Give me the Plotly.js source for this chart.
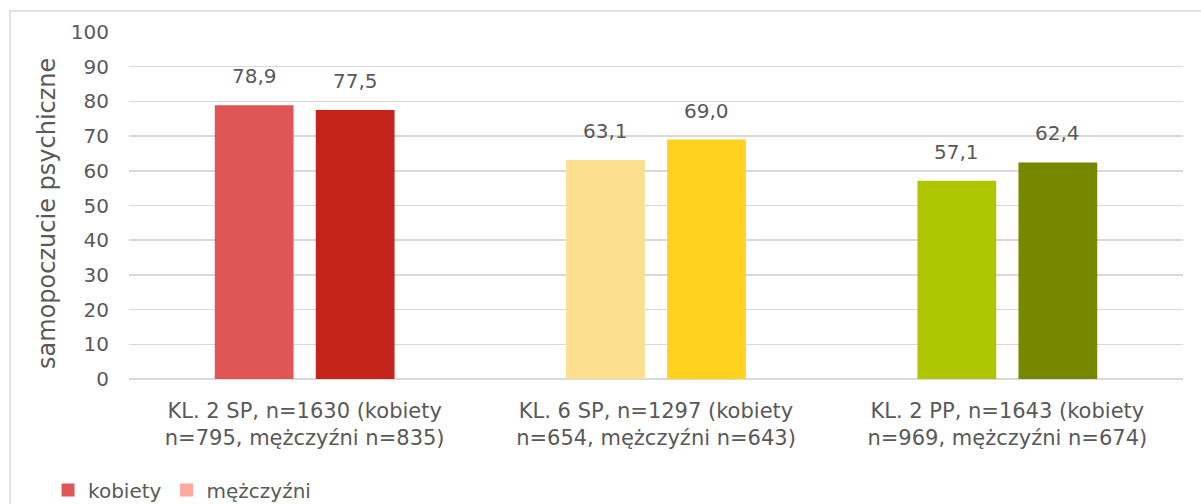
<!DOCTYPE html>
<html>
<head>
<meta charset="utf-8">
<script src="https://cdn.plot.ly/plotly-3.0.1.min.js"></script>
<style>html,body{margin:0;padding:0;background:#fff}#chart{width:1201px;height:504px}</style>
</head>
<body>
<div id="chart"></div>
<script>
const categories = [
  "KL. 2 SP, n=1630 (kobiety<br>n=795, mężczyźni n=835)",
  "KL. 6 SP, n=1297 (kobiety<br>n=654, mężczyźni n=643)",
  "KL. 2 PP, n=1643 (kobiety<br>n=969, mężczyźni n=674)"
];
const kobiety = [78.9, 63.1, 57.1];
const mezczyzni = [77.5, 69.0, 62.4];
const kobietyColors = ["#E05555", "#FDE08E", "#AEC600"];
const mezczyzniColors = ["#C4241A", "#FFD21E", "#778700"];
const legendNames = ["kobiety", "mężczyźni"];
const legendColors = ["#E05555", "#FFA8A0"];
const yTicks = [0, 10, 20, 30, 40, 50, 60, 70, 80, 90, 100];
const yTitle = "samopoczucie psychiczne";

const FONT = "DejaVu Sans, sans-serif";
const TXT = "#595959";

const traces = [
  {type: "bar", x: categories, y: kobiety, marker: {color: kobietyColors}, showlegend: false, hoverinfo: "none"},
  {type: "bar", x: categories, y: mezczyzni, marker: {color: mezczyzniColors}, showlegend: false, hoverinfo: "none"}
];
legendNames.forEach((n, i) => {
  traces.push({type: "scatter", mode: "markers", x: [null], y: [null], name: n,
    marker: {symbol: "square", size: 13, color: legendColors[i]}, hoverinfo: "none"});
});

const fmt = v => v.toFixed(1).replace(".", ",");
const annotations = [];
[kobiety, mezczyzni].forEach((arr, s) => {
  arr.forEach((v, i) => {
    annotations.push({x: categories[i], y: v, xref: "x", yref: "y", text: fmt(v),
      showarrow: false, yanchor: "bottom", xshift: s === 0 ? -50.5 : 50.5, yshift: 15,
      font: {family: FONT, size: 20, color: TXT}});
  });
});
annotations.push({text: yTitle, xref: "paper", yref: "paper", x: -0.078, y: 0.478,
  xanchor: "center", yanchor: "middle", textangle: -90, showarrow: false,
  font: {family: FONT, size: 24, color: TXT}});

const layout = {
  width: 1201, height: 504,
  margin: {l: 129, r: 18, t: 32, b: 125, autoexpand: false},
  paper_bgcolor: "#fff", plot_bgcolor: "#fff",
  barmode: "group", bargap: 0.425, bargroupgap: 0.22,
  font: {family: FONT, size: 20, color: TXT},
  xaxis: {type: "category", automargin: false, showgrid: false, showline: false, zeroline: false, ticks: "",
    ticklabelstandoff: 17, tickfont: {family: FONT, size: 21, color: TXT}},
  yaxis: {range: [0, 100], automargin: false, tickvals: yTicks, showgrid: true, gridcolor: "#d9d9d9", gridwidth: 1.5,
    zeroline: true, zerolinecolor: "#d9d9d9", zerolinewidth: 1.5, showline: false, ticks: "",
    ticklabelstandoff: 19, tickfont: {family: FONT, size: 20, color: TXT}},
  showlegend: true,
  legend: {orientation: "h", xref: "container", yref: "container", x: 0.04, xanchor: "left", y: 0.028, yanchor: "middle",
    font: {family: FONT, size: 20, color: TXT}, itemwidth: 30, traceorder: "normal"},
  annotations: annotations,
  shapes: [{type: "rect", xref: "paper", yref: "paper", x0: -0.1129, x1: 1.03, y0: -0.4, y1: 1.0605,
    line: {color: "#d9d9d9", width: 1.5}, fillcolor: "rgba(0,0,0,0)", layer: "below"}]
};
Plotly.newPlot("chart", traces, layout, {displayModeBar: false, staticPlot: true});
</script>
</body>
</html>
